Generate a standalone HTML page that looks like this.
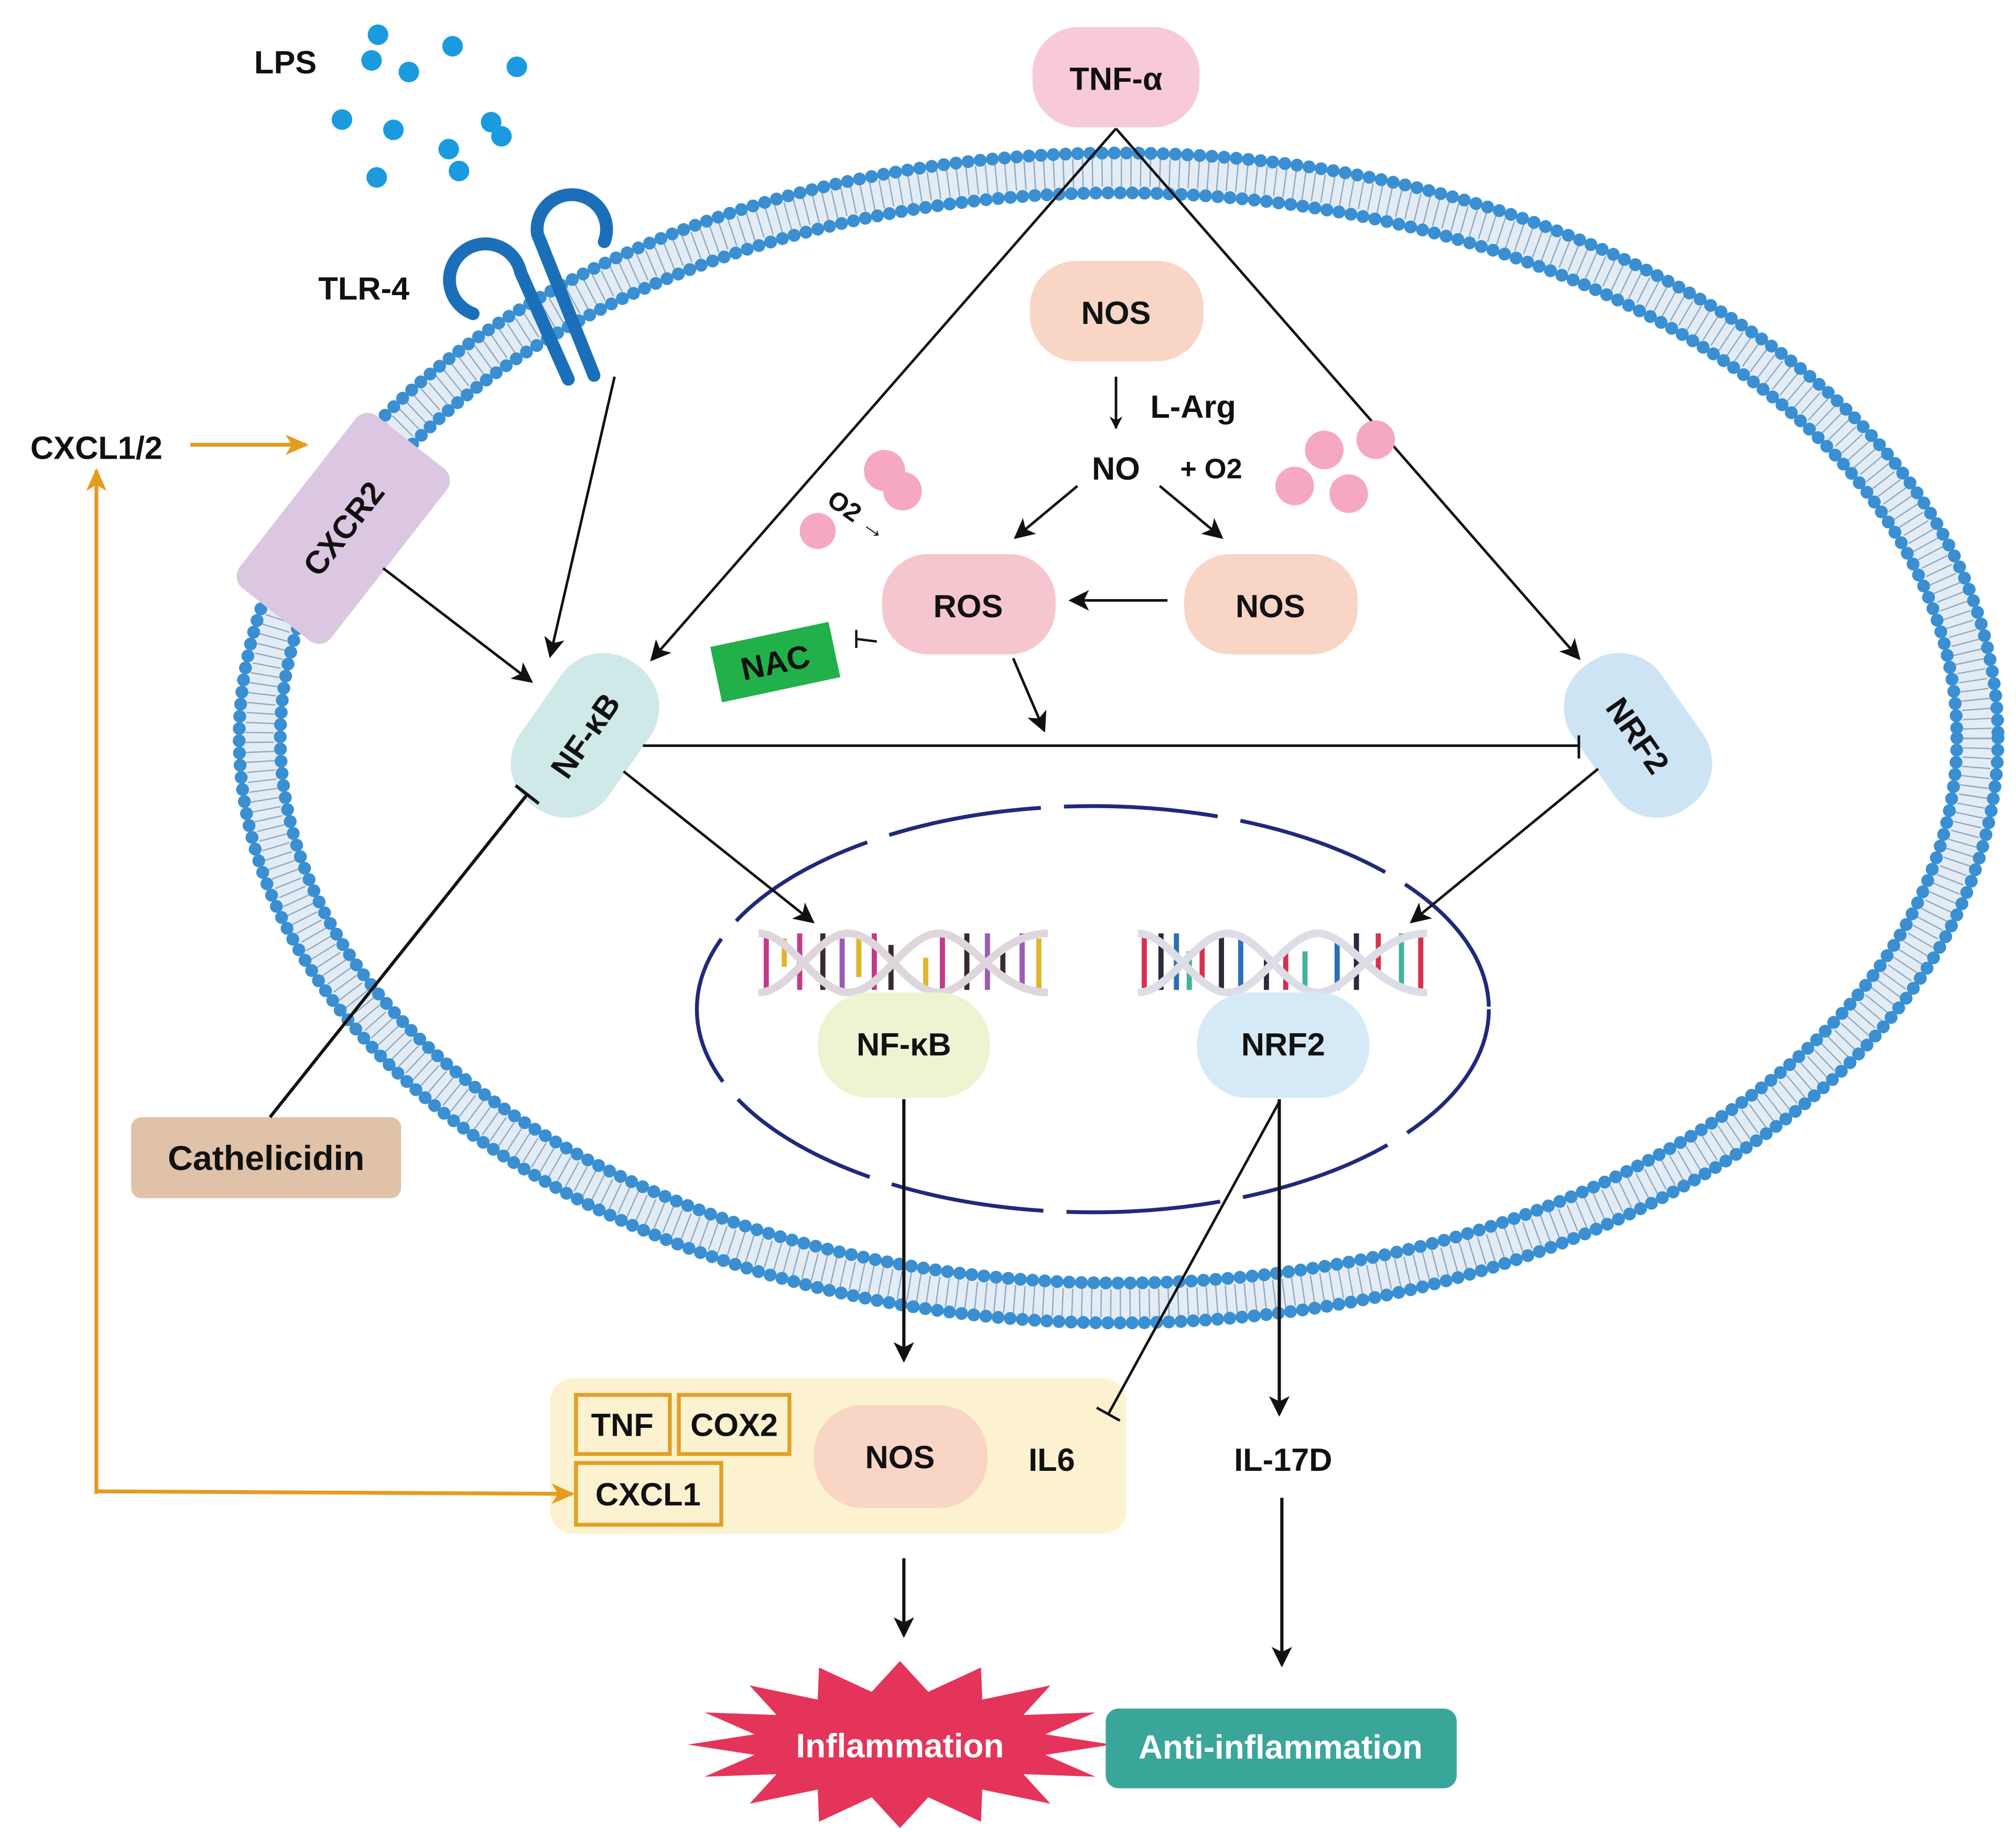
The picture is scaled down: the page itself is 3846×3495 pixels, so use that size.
<!DOCTYPE html>
<html><head><meta charset="utf-8"><style>
html,body{margin:0;padding:0;background:#fff}
svg{display:block}
text{font-family:"Liberation Sans",Arial,sans-serif;font-weight:bold;fill:#111}
</style></head><body>
<svg width="3846" height="3495" viewBox="0 0 1568 1425" preserveAspectRatio="none" xmlns="http://www.w3.org/2000/svg">
<defs>
<marker id="a" markerWidth="10" markerHeight="10" refX="9" refY="5" orient="auto" markerUnits="userSpaceOnUse"><path d="M0,0 L10,5 L0,10 L3,5 Z" fill="#111"/></marker>
<marker id="big" markerWidth="16" markerHeight="16" refX="14" refY="8" orient="auto" markerUnits="userSpaceOnUse"><path d="M0,0 L16,8 L0,16 L4,8 Z" fill="#111"/></marker>
<marker id="o" markerWidth="18" markerHeight="16" refX="16" refY="8" orient="auto" markerUnits="userSpaceOnUse"><path d="M0,0 L18,8 L0,16 L5,8 Z" fill="#e59b1f"/></marker>
</defs>

<!-- membrane -->
<ellipse cx="870" cy="574" rx="668" ry="440" fill="none" stroke="#e3ecf5" stroke-width="30"/>
<ellipse cx="870" cy="574" rx="668" ry="440" fill="none" stroke="#8fa9c0" stroke-width="22" stroke-dasharray="1 6.5"/>
<ellipse cx="870" cy="574" rx="684" ry="455" fill="none" stroke="#3a8fd2" stroke-width="10" stroke-linecap="round" stroke-dasharray="0 9.5"/>
<ellipse cx="870" cy="574" rx="652" ry="424" fill="none" stroke="#3a8fd2" stroke-width="10" stroke-linecap="round" stroke-dasharray="0 9.5"/>

<!-- nucleus -->
<ellipse cx="850" cy="785" rx="308" ry="158" fill="none" stroke="#1f2a7a" stroke-width="3" stroke-dasharray="120 18"/>

<!-- LPS -->
<text x="222" y="57" font-size="25" text-anchor="middle">LPS</text>
<g fill="#1a9be0">
<circle cx="294" cy="27" r="8"/><circle cx="289" cy="47" r="8"/><circle cx="318" cy="56" r="8"/><circle cx="352" cy="36" r="8"/><circle cx="402" cy="52" r="8"/>
<circle cx="266" cy="93" r="8"/><circle cx="306" cy="101" r="8"/><circle cx="349" cy="116" r="8"/><circle cx="382" cy="95" r="8"/><circle cx="390" cy="106" r="8"/><circle cx="293" cy="138" r="8"/><circle cx="357" cy="133" r="8"/>
</g>

<!-- TLR-4 -->
<text x="283" y="233" font-size="25" text-anchor="middle">TLR-4</text>
<g fill="none" stroke="#1b6fb8" stroke-width="10" stroke-linecap="round">
<path d="M368,244 A28 28 0 1 1 405,212 L442,295"/>
<path d="M470,188 A27 27 0 1 0 418,182 L462,292"/>
</g>

<!-- TNF -->
<rect x="803" y="21" width="130" height="78" rx="36" fill="#f7c9da"/>
<text x="868" y="70" font-size="25" text-anchor="middle">TNF-α</text>
<line x1="868" y1="100" x2="507" y2="513" stroke="#111" stroke-width="2" marker-end="url(#big)"/>
<line x1="868" y1="100" x2="1228" y2="512" stroke="#111" stroke-width="2" marker-end="url(#big)"/>

<!-- CXCL1/2 -->
<text x="75" y="357" font-size="25" text-anchor="middle">CXCL1/2</text>
<line x1="148" y1="346" x2="238" y2="346" stroke="#e59b1f" stroke-width="3" marker-end="url(#o)"/>
<polyline points="75,1162 75,366" fill="none" stroke="#e59b1f" stroke-width="3" marker-end="url(#o)"/>

<!-- CXCR2 -->
<g transform="translate(267,411) rotate(-52)">
<rect x="-85" y="-45" width="170" height="90" rx="12" fill="#dcc7e2"/>
<text x="0" y="9" font-size="25" text-anchor="middle">CXCR2</text>
</g>
<line x1="298" y1="442" x2="413" y2="530" stroke="#111" stroke-width="2" marker-end="url(#big)"/>
<line x1="478" y1="293" x2="428" y2="510" stroke="#111" stroke-width="2" marker-end="url(#big)"/>

<!-- NOS top -->
<rect x="801" y="203" width="135" height="78" rx="36" fill="#f8d5c5"/>
<text x="868" y="252" font-size="25" text-anchor="middle">NOS</text>
<line x1="868" y1="293" x2="868" y2="333" stroke="#111" stroke-width="2" marker-end="url(#a)"/>
<text x="928" y="325" font-size="25" text-anchor="middle">L-Arg</text>
<text x="868" y="373" font-size="25" text-anchor="middle">NO</text>
<text x="942" y="372" font-size="22" text-anchor="middle">+ O2</text>
<line x1="838" y1="378" x2="790" y2="418" stroke="#111" stroke-width="2" marker-end="url(#big)"/>
<line x1="902" y1="378" x2="950" y2="418" stroke="#111" stroke-width="2" marker-end="url(#big)"/>

<!-- O2 molecules -->
<g fill="#f5a7c3">
<circle cx="688" cy="366" r="16"/><circle cx="702" cy="382" r="15"/><circle cx="636" cy="413" r="14"/>
<circle cx="1030" cy="350" r="15"/><circle cx="1070" cy="342" r="15"/><circle cx="1007" cy="378" r="15"/><circle cx="1049" cy="384" r="15"/>
</g>
<text x="668" y="408" font-size="20" text-anchor="middle" transform="rotate(35 668 400)">O2 →</text>

<!-- ROS / NOS -->
<rect x="686" y="431" width="135" height="78" rx="36" fill="#f6c6cf"/>
<text x="753" y="480" font-size="25" text-anchor="middle">ROS</text>
<rect x="921" y="431" width="135" height="78" rx="36" fill="#f8d5c5"/>
<text x="988" y="480" font-size="25" text-anchor="middle">NOS</text>
<line x1="908" y1="467" x2="833" y2="467" stroke="#111" stroke-width="2" marker-end="url(#big)"/>
<line x1="788" y1="512" x2="812" y2="568" stroke="#111" stroke-width="2" marker-end="url(#big)"/>

<!-- NAC -->
<g transform="translate(603,515) rotate(-12)">
<rect x="-47" y="-22" width="94" height="44" fill="#22b04a"/>
<text x="0" y="9" font-size="25" text-anchor="middle">NAC</text>
</g>
<path d="M666,490 L666,504 M666,497 L682,499" stroke="#111" stroke-width="1.8"/>

<!-- NF-kB cytoplasm -->
<g transform="translate(455,572) rotate(-55)">
<rect x="-68" y="-42" width="136" height="84" rx="40" fill="#cfe8e8"/>
<text x="0" y="9" font-size="25" text-anchor="middle">NF-κB</text>
</g>
<!-- NRF2 cytoplasm -->
<g transform="translate(1274,572) rotate(55)">
<rect x="-68" y="-42" width="136" height="84" rx="40" fill="#cde4f5"/>
<text x="0" y="9" font-size="25" text-anchor="middle">NRF2</text>
</g>

<line x1="500" y1="580" x2="1228" y2="580" stroke="#111" stroke-width="2"/>
<line x1="1228" y1="572" x2="1228" y2="590" stroke="#111" stroke-width="2"/>
<line x1="485" y1="600" x2="632" y2="717" stroke="#111" stroke-width="2" marker-end="url(#big)"/>
<line x1="1243" y1="598" x2="1098" y2="717" stroke="#111" stroke-width="2" marker-end="url(#big)"/>

<!-- DNA left -->
<g stroke-width="4">
<g stroke="#c43a8a"><line x1="596" y1="726" x2="596" y2="770"/><line x1="622" y1="726" x2="622" y2="770"/><line x1="680" y1="726" x2="680" y2="770"/><line x1="733" y1="726" x2="733" y2="770"/></g>
<g stroke="#e0b52a"><line x1="610" y1="730" x2="610" y2="752"/><line x1="668" y1="728" x2="668" y2="760"/><line x1="720" y1="745" x2="720" y2="770"/><line x1="808" y1="730" x2="808" y2="770"/></g>
<g stroke="#3a2a2a"><line x1="640" y1="726" x2="640" y2="770"/><line x1="693" y1="735" x2="693" y2="770"/><line x1="752" y1="726" x2="752" y2="770"/><line x1="780" y1="740" x2="780" y2="760"/></g>
<g stroke="#9a5cb4"><line x1="655" y1="730" x2="655" y2="770"/><line x1="768" y1="726" x2="768" y2="770"/><line x1="795" y1="726" x2="795" y2="770"/></g>
</g>
<g fill="none" stroke="#ded6dc" stroke-width="6">
<path d="M590,726 C615,726 635,772 660,772 C685,772 705,726 730,726 C755,726 775,772 815,772"/>
<path d="M590,772 C615,772 635,726 660,726 C685,726 705,772 730,772 C755,772 775,726 815,726"/>
</g>
<!-- DNA right -->
<g stroke-width="4">
<g stroke="#d9304f"><line x1="890" y1="726" x2="890" y2="770"/><line x1="935" y1="735" x2="935" y2="765"/><line x1="1000" y1="740" x2="1000" y2="770"/><line x1="1072" y1="726" x2="1072" y2="760"/><line x1="1105" y1="726" x2="1105" y2="770"/></g>
<g stroke="#2a6fb5"><line x1="915" y1="726" x2="915" y2="770"/><line x1="965" y1="726" x2="965" y2="770"/><line x1="1040" y1="730" x2="1040" y2="770"/></g>
<g stroke="#2a2a3a"><line x1="903" y1="726" x2="903" y2="770"/><line x1="950" y1="726" x2="950" y2="770"/><line x1="985" y1="745" x2="985" y2="770"/><line x1="1055" y1="726" x2="1055" y2="770"/></g>
<g stroke="#3fb49c"><line x1="925" y1="740" x2="925" y2="770"/><line x1="1015" y1="740" x2="1015" y2="770"/><line x1="1090" y1="726" x2="1090" y2="770"/></g>
</g>
<g fill="none" stroke="#dcdde6" stroke-width="6">
<path d="M885,726 C910,726 930,772 955,772 C980,772 1000,726 1025,726 C1050,726 1070,772 1110,772"/>
<path d="M885,772 C910,772 930,726 955,726 C980,726 1000,772 1025,772 C1050,772 1070,726 1110,726"/>
</g>

<!-- nuclear TFs -->
<rect x="636" y="772" width="134" height="82" rx="40" fill="#eef3d2"/>
<text x="703" y="821" font-size="25" text-anchor="middle">NF-κB</text>
<rect x="931" y="772" width="134" height="82" rx="40" fill="#d4eaf7"/>
<text x="998" y="821" font-size="25" text-anchor="middle">NRF2</text>

<!-- Cathelicidin -->
<rect x="102" y="869" width="210" height="63" rx="8" fill="#dfc2a8"/>
<text x="207" y="910" font-size="27" text-anchor="middle">Cathelicidin</text>
<line x1="210" y1="869" x2="410" y2="618" stroke="#111" stroke-width="2.5"/>
<line x1="401" y1="611" x2="419" y2="625" stroke="#111" stroke-width="2.5"/>

<!-- product box -->
<rect x="428" y="1072" width="448" height="121" rx="18" fill="#fcf2cf"/>
<rect x="448" y="1085" width="73" height="46" fill="none" stroke="#e0a024" stroke-width="3"/>
<text x="484" y="1117" font-size="25" text-anchor="middle">TNF</text>
<rect x="528" y="1085" width="86" height="46" fill="none" stroke="#e0a024" stroke-width="3"/>
<text x="571" y="1117" font-size="25" text-anchor="middle">COX2</text>
<rect x="448" y="1138" width="113" height="48" fill="none" stroke="#e0a024" stroke-width="3"/>
<text x="504" y="1171" font-size="25" text-anchor="middle">CXCL1</text>
<rect x="633" y="1093" width="135" height="80" rx="38" fill="#f8d5c5"/>
<text x="700" y="1142" font-size="25" text-anchor="middle">NOS</text>
<text x="818" y="1144" font-size="25" text-anchor="middle">IL6</text>
<text x="998" y="1144" font-size="25" text-anchor="middle">IL-17D</text>

<!-- connectors over box -->
<polyline points="75,1160 445,1162" fill="none" stroke="#e59b1f" stroke-width="3" marker-end="url(#o)"/>
<line x1="703" y1="855" x2="703" y2="1058" stroke="#111" stroke-width="2.5" marker-end="url(#big)"/>
<line x1="995" y1="855" x2="995" y2="1100" stroke="#111" stroke-width="2.5" marker-end="url(#big)"/>
<line x1="995" y1="857" x2="862" y2="1100" stroke="#111" stroke-width="2"/>
<line x1="853" y1="1095" x2="871" y2="1105" stroke="#111" stroke-width="2"/>

<line x1="703" y1="1212" x2="703" y2="1272" stroke="#111" stroke-width="2.5" marker-end="url(#big)"/>
<line x1="997" y1="1165" x2="997" y2="1295" stroke="#111" stroke-width="2.5" marker-end="url(#big)"/>

<!-- outcomes -->
<polygon points="865,1357 813,1365 852,1382 796,1380 817,1403 764,1392 763,1417 722,1398 700,1422 678,1398 637,1417 636,1392 583,1403 604,1380 548,1382 587,1365 535,1357 587,1349 548,1332 604,1334 583,1311 636,1322 637,1297 678,1316 700,1292 722,1316 763,1297 764,1322 817,1311 796,1334 852,1332 813,1349" fill="#e5345a"/>
<text x="700" y="1367" font-size="26" text-anchor="middle" style="fill:#fff">Inflammation</text>
<rect x="860" y="1329" width="273" height="62" rx="10" fill="#3aa69a"/>
<text x="996" y="1368" font-size="26" text-anchor="middle" style="fill:#fff">Anti-inflammation</text>
</svg>
</body></html>
